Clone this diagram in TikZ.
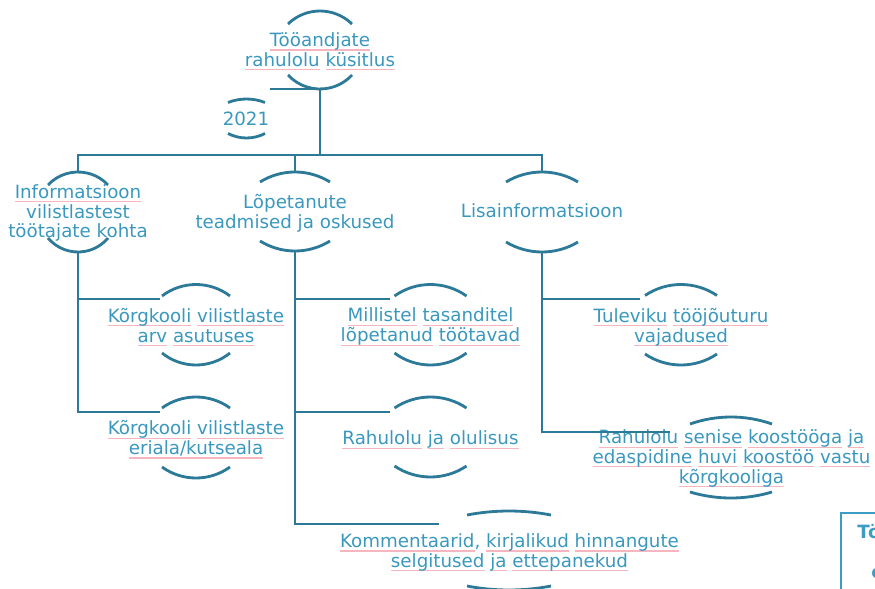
\documentclass[tikz,border=0pt]{standalone}
\usepackage{fontspec}
\setmainfont{DejaVu Sans}
\definecolor{linec}{RGB}{44,122,152}
\definecolor{txtc}{RGB}{58,152,190}
\definecolor{sqc}{RGB}{246,182,192}
\definecolor{boxc}{RGB}{60,156,196}
\newcommand\sq[1]{\setbox0\hbox{#1}\leavevmode\rlap{\color{sqc}\rule[-2.3pt]{\wd0}{0.6pt}}\box0\relax}
% ring arcs (circular): cx, top y, bottom y, half width, sagitta top, sagitta bottom
\newcommand\ring[6]{%
  \pgfmathsetmacro\rRt{(#4*#4+#5*#5)/(2*#5)}%
  \pgfmathsetmacro\rTt{asin(#4/\rRt)}%
  \pgfmathsetmacro\rRb{(#4*#4+#6*#6)/(2*#6)}%
  \pgfmathsetmacro\rTb{asin(#4/\rRb)}%
  \draw[arcline] (#1-#4,#2+#5) arc[start angle=-90-\rTt, end angle=-90+\rTt, radius=\rRt];
  \draw[arcline] (#1-#4,#3-#6) arc[start angle=90+\rTb, end angle=90-\rTb, radius=\rRb];}
\begin{document}
\begin{tikzpicture}[x=0.02cm,y=-0.02cm,
  conn/.style={draw=linec,line width=1.6pt},
  arcline/.style={draw=linec,line width=1.6pt},
  txt/.style={text=txtc,align=center,inner sep=0pt,font=\fontsize{10.4}{11.3}\selectfont},
  boxtxt/.style={text=boxc,inner sep=0pt,anchor=base west,font=\fontsize{10.4}{11.3}\selectfont\bfseries}]
\clip (0,0) rectangle (875,588);

% ---- nodes ----
\node[txt] (root) at (320,51.5) {\sq{Tööandjate}\\\sq{rahulolu} \sq{küsitlus}};
\ring{320}{11}{89}{32}{13}{14}
\coordinate (root-b) at (320,89);

\node[txt] (yr) at (246,119.3) {2021};
\ring{246.5}{99}{138}{18.5}{3.5}{4.5}
\coordinate (yr-end) at (270,89);

\node[txt] (info) at (78,213) {\sq{Informatsioon}\\vilistlastest\\töötajate kohta};
\ring{78}{172}{252}{30}{13}{14}
\coordinate (info-t) at (78,172);
\coordinate (info-b) at (78,252);

\node[txt] (lop) at (295,213) {Lõpetanute\\teadmised ja oskused};
\ring{295}{172}{251}{35}{10}{10}
\coordinate (lop-t) at (295,172);
\coordinate (lop-b) at (295,251);

\node[txt] (lisa) at (542,211) {Lisainformatsioon};
\ring{542}{172}{252}{36}{10}{10}
\coordinate (lisa-t) at (542,172);
\coordinate (lisa-b) at (542,252);

\node[txt] (k1) at (196,327) {\sq{Kõrgkooli} \sq{vilistlaste}\\\sq{arv} \sq{asutuses}};
\ring{196}{284.5}{365}{34}{11.5}{12}
\coordinate (k1-in) at (160,299);

\node[txt] (k2) at (196,439.5) {\sq{Kõrgkooli} \sq{vilistlaste}\\\sq{eriala/kutseala}};
\ring{196}{397}{478}{34}{11}{11}
\coordinate (k2-in) at (160,412);

\node[txt] (mil) at (430.5,327) {\sq{Millistel} \sq{tasanditel}\\\sq{lõpetanud} \sq{töötavad}};
\ring{430.5}{284.5}{365}{36}{11.5}{12}
\coordinate (mil-in) at (390,299);

\node[txt] (rah) at (430.5,440) {\sq{Rahulolu} \sq{ja} \sq{olulisus}};
\ring{430.5}{397}{477}{36}{11}{11}
\coordinate (rah-in) at (390,412);

\node[txt] (kom) at (509.5,552.5) {\sq{Kommentaarid}, \sq{kirjalikud} \sq{hinnangute}\\\sq{selgitused} \sq{ja} \sq{ettepanekud}};
\ring{509}{511}{590}{42}{4}{4}
\coordinate (kom-in) at (439,524);

\node[txt] (tul) at (681,327) {\sq{Tuleviku} \sq{tööjõuturu}\\\sq{vajadused}};
\ring{681}{284.5}{365}{36}{11}{11}
\coordinate (tul-in) at (640,299);

\node[txt] (rs) at (731.5,458.5) {\sq{Rahulolu} \sq{senise} \sq{koostööga} \sq{ja}\\\sq{edaspidine} \sq{huvi} \sq{koostöö} \sq{vastu}\\\sq{kõrgkooliga}};
\ring{731}{417}{498}{41}{7}{6}
\coordinate (rs-in) at (670,432);

% ---- connectors ----
\coordinate (bus) at (320,155);
\draw[conn] (yr-end) -- (root-b) -- (bus);
\draw[conn] (info-t) |- (bus) -| (lisa-t);
\draw[conn] (bus -| lop-t) -- (lop-t);

\draw[conn] (info-b) |- (k2-in);
\draw[conn] (info-b |- k1-in) -- (k1-in);

\draw[conn] (lop-b) |- (kom-in);
\draw[conn] (lop-b |- mil-in) -- (mil-in);
\draw[conn] (lop-b |- rah-in) -- (rah-in);

\draw[conn] (lisa-b) |- (rs-in);
\draw[conn] (lisa-b |- tul-in) -- (tul-in);

% ---- partial box at the lower right ----
\draw[boxc,line width=0.8pt] (841,650) -- (841,513) -- (950,513);
\node[boxtxt] (boxa) at (857,538) {Tööandjate};
\node[boxtxt] (boxb) at (871,578) {c};
\end{tikzpicture}
\end{document}
